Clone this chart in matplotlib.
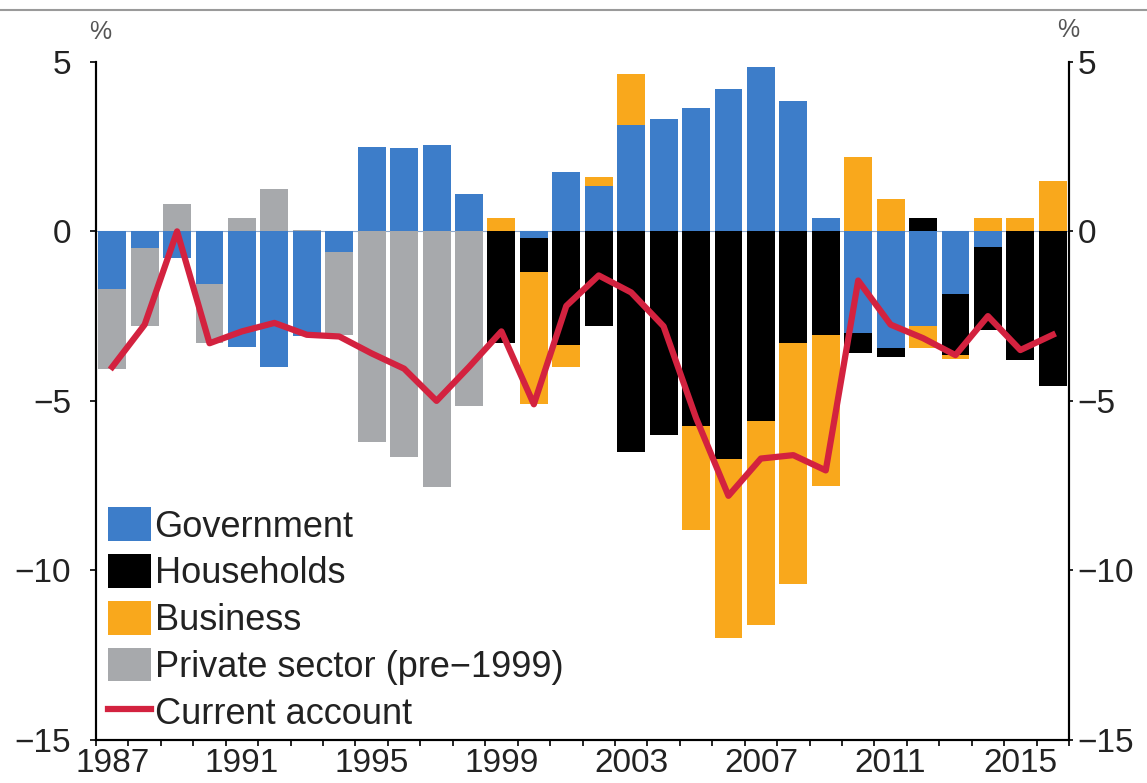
#!/usr/bin/env python3

import numpy as np
import matplotlib.pyplot as plt
from matplotlib.patches import Patch
from matplotlib.lines import Line2D

plt.rcParams['font.family'] = ['Liberation Sans', 'DejaVu Sans']

# Sector balances, % of GDP, 1987-2016
years = list(range(1987, 2017))

government = [-1.7, -0.5, -0.8, -1.55, -3.4, -4.0, -3.1, -0.6, 2.5, 2.45,
              2.55, 1.1, 0.0, -0.2, 1.75, 1.35, 3.15, 3.3, 3.65, 4.2,
              4.85, 3.85, 0.4, -3.0, -3.45, -2.8, -1.85, -0.45, 0.0, 0.0]

households = [0, 0, 0, 0, 0, 0, 0, 0, 0, 0,
              0, 0, -3.3, -1.0, -3.35, -2.8, -6.5, -6.0, -5.75, -6.7,
              -5.6, -3.3, -3.05, -0.6, -0.25, 0.4, -1.8, -2.45, -3.8, -4.55]

business = [0, 0, 0, 0, 0, 0, 0, 0, 0, 0,
            0, 0, 0.4, -3.9, -0.65, 0.25, 1.5, 0.0, -3.05, -5.3,
            -6.0, -7.1, -4.45, 2.2, 0.95, -0.65, -0.1, 0.4, 0.4, 1.5]

private_pre1999 = [-2.35, -2.3, 0.8, -1.75, 0.4, 1.25, 0.05, -2.45, -6.2, -6.65,
                   -7.55, -5.15, 0, 0, 0, 0, 0, 0, 0, 0,
                   0, 0, 0, 0, 0, 0, 0, 0, 0, 0]

current_account = [-4.0, -2.75, 0.0, -3.3, -2.95, -2.7, -3.05, -3.1, -3.6, -4.05,
                   -5.0, -4.0, -2.95, -5.1, -2.2, -1.3, -1.8, -2.8, -5.5, -7.8,
                   -6.7, -6.6, -7.05, -1.45, -2.75, -3.15, -3.65, -2.5, -3.5, -3.05]

labels = ["Government", "Households", "Business", "Private sector (pre\u22121999)"]
colors = ["#3D7DC9", "#000000", "#F9A81C", "#A7A9AC"]
red = "#D3223F"
yticks = [5, 0, -5, -10, -15]
ytick_labels = [str(v).replace("-", "\u2212") for v in yticks]

fig = plt.figure(figsize=(11.47, 7.83), dpi=100)
ax = fig.add_axes([0.0837, 0.055, 0.8483, 0.866])

x = np.arange(len(years))
pos = np.zeros(len(years))
neg = np.zeros(len(years))
for vals, col in zip([government, households, business, private_pre1999], colors):
    v = np.array(vals, dtype=float)
    bottom = np.where(v >= 0, pos, neg)
    ax.bar(x, v, width=0.86, bottom=bottom, color=col, linewidth=0, zorder=2)
    pos += np.where(v > 0, v, 0)
    neg += np.where(v < 0, v, 0)

ax.axhline(0, color="#8FA9CC", lw=0.8, zorder=1)
ax.plot(x, current_account, color=red, lw=4.5, zorder=3)

ax.set_xlim(-0.5, len(years) - 0.5)
ax.set_ylim(-15, 5)

# labels every 4 years, small ticks on year boundaries
lab_idx = [i for i, y in enumerate(years) if (y - 1987) % 4 == 0]
ax.set_xticks(lab_idx)
ax.set_xticklabels([str(years[i]) for i in lab_idx], color="#222222")
ax.set_xticks(np.arange(-0.5, len(years)), minor=True)
ax.tick_params(axis="x", which="major", length=0, pad=6, labelsize=24)
ax.tick_params(axis="x", which="minor", length=4, width=1.2, direction="out")

ax.set_yticks(yticks)
ax.set_yticklabels(ytick_labels, color="#222222")
ax.tick_params(axis="y", labelsize=24, length=4, width=1.2, pad=14)

# right-hand axis, same scale
ax2 = ax.twinx()
ax2.set_ylim(-15, 5)
ax2.set_yticks(yticks)
ax2.set_yticklabels(ytick_labels, color="#222222")
ax2.tick_params(axis="y", labelsize=24, length=3, width=1.2, pad=3)

for a in (ax, ax2):
    a.spines["top"].set_visible(False)
    for s in ["left", "right", "bottom"]:
        a.spines[s].set_linewidth(1.5)

handles = [Patch(facecolor=c, edgecolor="none") for c in colors]
handles.append(Line2D([0], [0], color=red, lw=4.5))
leg = ax.legend(handles, labels + ["Current account"], loc="lower left",
                bbox_to_anchor=(0.012, 0.012), frameon=False, fontsize=26,
                handlelength=1.2, handleheight=1.05, handletextpad=0.1,
                labelspacing=0.27, borderpad=0, borderaxespad=0)
for t in leg.get_texts():
    t.set_color("#222222")

fig.text(100 / 1147, 1 - 32 / 783, "%", fontsize=18, color="#555555",
         ha="center", va="center")
fig.text(1068 / 1147, 1 - 30 / 783, "%", fontsize=18, color="#555555",
         ha="center", va="center")
fig.add_artist(Line2D([0, 1], [1 - 10 / 783] * 2, color="#9A9A9A", lw=1.5))

fig.savefig("out.png", dpi=100)
plt.close(fig)
